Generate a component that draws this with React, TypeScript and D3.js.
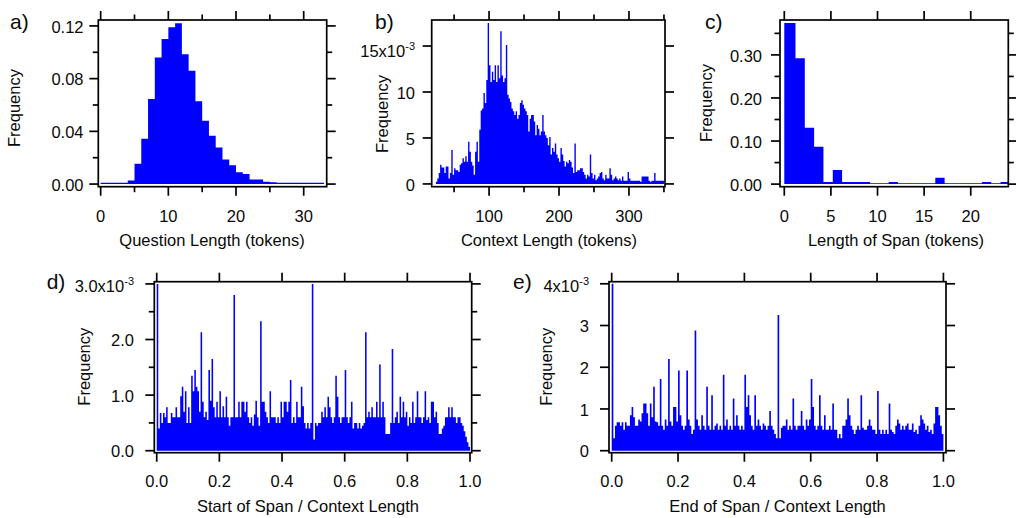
import React from "react";
import * as d3 from "d3";

// a) question length, 1-token bins starting at 0
const questionBinStart = 0;
const questionBinWidth = 1;
const questionFreq = [
  0.001, 0.001, 0.001, 0.001, 0.0028, 0.0154, 0.0344, 0.0646, 0.096, 0.11,
  0.119, 0.122, 0.0985, 0.086, 0.0628, 0.048, 0.0367, 0.0278, 0.0187, 0.0142,
  0.0089, 0.0076, 0.0035, 0.0035, 0.0018, 0.0013, 0.001, 0.001, 0.001, 0.001,
  0.001, 0.001, 0.001,
];

// b) context length, 2-token bins starting at 24 (values x1e-3)
const contextBinStart = 24;
const contextBinWidth = 2;
const contextFreq = [
  0.25, 0.6, 1.2, 2.1, 1.8, 1.8, 1.2, 1.9, 1.9, 0.6,
  1.2, 3.7, 1.0, 1.7, 1.5, 1.5, 1.3, 2.1, 2.25, 2.8,
  2.4, 3.0, 2.4, 4.6, 3.5, 2.4, 2.0, 1.0, 3.5, 4.6,
  2.4, 5.9, 8.0, 8.2, 9.9, 8.8, 11.3, 17.5, 12.9, 11.1,
  12.2, 11.3, 12.9, 11.1, 12.9, 11.5, 16.6, 11.8, 11.1, 11.5,
  15.1, 9.7, 9.3, 8.9, 8.2, 7.9, 7.5, 7.9, 7.1, 7.5,
  8.8, 9.1, 8.6, 8.2, 7.9, 7.5, 5.7, 7.1, 7.5, 7.5,
  6.8, 5.3, 6.4, 6.0, 5.3, 5.7, 7.5, 5.7, 5.3, 5.0,
  4.2, 5.1, 3.2, 3.9, 3.5, 4.4, 3.2, 2.8, 2.4, 3.9,
  3.2, 2.5, 1.9, 2.4, 2.25, 2.6, 2.4, 1.8, 1.2, 4.4,
  1.3, 1.5, 1.5, 1.7, 1.7, 1.3, 1.0, 0.6, 1.0, 0.8,
  3.2, 1.2, 0.6, 1.0, 0.4, 0.6, 0.8, 1.2, 1.3, 0.6,
  0.4, 1.0, 0.6, 0.6, 1.7, 1.0, 0.4, 0.6, 0.8, 0.6,
  0.4, 0.6, 0.35, 0.8, 0.35, 0.35, 0.35, 1.3, 0.6, 0.35,
  0.35, 0.35, 0.35, 0.35, 0.35, 0.35, 0.25, 0.8, 0.8, 0.8,
  0.8, 0.8, 0.35, 0.25, 0.35, 0.35, 1.2, 0.35, 0.35, 0.35,
  0.35, 0.35, 0.35,
];

// c) span length, uneven first bin
const spanBinEdges = [
  0, 1.2, 2.2, 3.2, 4.2, 5.2, 6.2, 7.2, 8.2, 9.2, 10.2, 11.2, 12.2, 13.2,
  14.2, 15.2, 16.2, 17.2, 18.2, 19.2, 20.2, 21.2, 22.2, 23.2, 24.2,
];
const spanFreq = [
  0.374, 0.292, 0.131, 0.087, 0.005, 0.033, 0.005, 0.005, 0.005, 0.002,
  0.002, 0.005, 0.002, 0.002, 0.002, 0.002, 0.015, 0.002, 0.002, 0.002,
  0.002, 0.005, 0.002, 0.005,
];

// d) start of span / context length, bins of 0.005 (values x1e-3)
const fracBinStart = 0;
const fracBinWidth = 0.005;
const startFreq = [
  3.0, 0.4, 0.68, 0.5, 0.68, 0.6, 0.78, 0.5, 0.5, 0.68, 0.6, 0.6, 0.78, 0.6, 0.6, 0.98, 1.15, 0.7, 1.07, 0.5,
  0.78, 0.5, 1.35, 1.07, 1.45, 1.15, 1.07, 0.7, 2.13, 0.88, 0.6, 0.7, 0.55, 1.45, 0.9, 1.65, 0.78, 0.6, 0.88, 0.6,
  1.07, 0.6, 0.8, 0.6, 0.97, 0.6, 0.45, 0.6, 0.6, 2.8, 0.6, 0.6, 0.88, 0.6, 0.88, 0.88, 0.7, 0.88, 0.6, 0.5,
  0.6, 0.45, 0.65, 0.9, 0.6, 0.45, 2.33, 0.88, 0.88, 0.7, 0.6, 0.5, 1.07, 0.6, 0.6, 0.6, 0.5, 0.6, 0.5, 0.88,
  0.6, 0.88, 0.88, 0.7, 0.88, 1.27, 0.5, 0.6, 0.5, 0.88, 0.6, 0.6, 1.15, 0.8, 0.5, 0.4, 0.5, 0.4, 0.5, 3.0,
  0.2, 0.5, 0.45, 0.5, 0.5, 0.7, 0.6, 0.78, 0.6, 0.97, 0.78, 0.6, 0.5, 0.6, 1.35, 0.97, 0.6, 0.5, 0.6, 0.6,
  1.45, 0.6, 0.5, 0.6, 0.88, 0.4, 0.5, 0.5, 0.4, 0.5, 0.4, 0.45, 0.5, 2.13, 0.6, 0.7, 0.6, 0.78, 0.6, 0.6,
  0.88, 0.6, 1.55, 0.6, 0.88, 0.6, 0.3, 0.3, 0.3, 0.5, 1.83, 0.5, 0.6, 0.7, 0.5, 0.97, 0.6, 0.88, 0.6, 0.7,
  0.45, 0.6, 0.5, 0.88, 0.5, 0.6, 1.07, 0.6, 0.6, 0.5, 0.6, 1.07, 0.55, 0.6, 0.5, 0.88, 0.88, 0.6, 0.7, 0.5,
  0.3, 0.3, 0.4, 0.45, 0.6, 0.6, 0.78, 0.6, 0.78, 0.6, 0.6, 0.5, 0.6, 0.6, 0.5, 0.45, 0.35, 0.25, 0.15, 0.07,
];

// e) end of span / context length, bins of 0.005 (values x1e-3)
const endFreq = [
  4.0, 0.3, 0.6, 0.68, 0.68, 0.6, 0.68, 0.5, 0.68, 0.6, 0.6, 0.85, 1.05, 0.8, 0.6, 0.6, 0.75, 0.7, 0.9, 1.13,
  1.13, 0.9, 0.6, 1.13, 0.8, 1.53, 0.7, 0.68, 0.6, 1.72, 0.6, 0.5, 0.75, 0.6, 2.2, 0.7, 0.6, 1.05, 1.05, 0.7,
  1.92, 0.85, 0.6, 0.5, 0.6, 1.92, 0.75, 0.6, 0.4, 0.5, 2.88, 0.75, 0.6, 0.5, 0.85, 0.6, 0.5, 1.53, 0.6, 0.5,
  1.33, 0.5, 0.6, 0.65, 0.5, 0.6, 0.5, 1.82, 0.6, 0.75, 0.5, 0.6, 0.5, 1.25, 0.6, 0.85, 0.6, 0.5, 0.6, 0.5,
  1.82, 1.05, 1.33, 0.85, 0.6, 0.5, 1.33, 0.6, 0.75, 0.6, 0.5, 0.65, 0.6, 0.5, 0.6, 0.95, 0.6, 0.5, 0.4, 0.3,
  3.25, 0.3, 0.55, 0.6, 0.6, 0.75, 0.5, 0.6, 0.5, 1.25, 0.6, 0.5, 0.6, 0.6, 0.95, 0.6, 0.5, 0.75, 0.6, 0.75,
  1.72, 1.05, 0.6, 0.5, 0.6, 1.33, 0.6, 0.5, 0.85, 0.5, 0.5, 0.6, 0.5, 1.13, 0.5, 0.5, 0.3, 0.4, 0.3, 0.6,
  0.6, 0.75, 1.25, 0.85, 0.6, 0.5, 0.4, 0.5, 0.6, 0.5, 1.33, 0.55, 0.5, 0.5, 0.6, 0.75, 0.6, 0.5, 0.5, 0.4,
  1.43, 0.5, 0.4, 0.5, 0.4, 0.5, 0.4, 1.13, 0.5, 0.45, 0.4, 0.6, 0.75, 0.65, 0.5, 0.6, 0.5, 0.6, 0.65, 0.5,
  0.5, 0.65, 0.45, 0.5, 0.4, 0.6, 0.85, 0.75, 0.65, 0.5, 0.6, 0.45, 0.5, 0.4, 0.65, 1.05, 1.05, 0.85, 0.6, 0.4,
];

const fracTicks = [0, 0.2, 0.4, 0.6, 0.8, 1.0];

const BLUE = "#0000ff";
const INK = "#0a0a0a";
const FONT = "'Liberation Sans', Arial, sans-serif";

const evenEdges = (start: number, width: number, n: number) =>
  d3.range(n + 1).map((i) => start + i * width);

type Box = { left: number; top: number; right: number; bottom: number };

type PanelSpec = {
  id: string;
  label: string;
  labelPos: [number, number];
  box: Box;
  xDomain: [number, number];
  yDomain: [number, number];
  edges: number[];
  values: number[];
  xMajor: number[];
  xMinor: number[];
  yMajor: number[];
  yMinor: number[];
  xFormat: (v: number) => string;
  yFormat: (v: number) => string;
  yExp?: string;
  yExpDy?: number;
  yLabelRight: number;
  yTitlePos: [number, number];
  xTickY: number;
  xTitle: string;
  xTitlePos: [number, number];
};

const MAJOR = 9;
const MINOR = 5.5;

const Panel = ({ spec }: { spec: PanelSpec }) => {
  const { box } = spec;
  const x = d3.scaleLinear().domain(spec.xDomain).range([box.left, box.right]);
  const y = d3.scaleLinear().domain(spec.yDomain).range([box.bottom, box.top]);

  const pts: [number, number][] = spec.values.map((v, i) => [spec.edges[i], v]);
  pts.push([spec.edges[spec.values.length], spec.values[spec.values.length - 1]]);
  const area = d3
    .area<[number, number]>()
    .x((d) => x(d[0]))
    .y0(y(0))
    .y1((d) => y(d[1]))
    .curve(d3.curveStepAfter);

  const xt = [
    ...spec.xMajor.map((v) => ({ v, len: MAJOR })),
    ...spec.xMinor.map((v) => ({ v, len: MINOR })),
  ];
  const yt = [
    ...spec.yMajor.map((v) => ({ v, len: MAJOR })),
    ...spec.yMinor.map((v) => ({ v, len: MINOR })),
  ];
  const clipId = `clip-${spec.id}`;
  const topY = spec.yMajor[spec.yMajor.length - 1];

  return (
    <g>
      <clipPath id={clipId}>
        <rect x={box.left} y={box.top} width={box.right - box.left} height={box.bottom - box.top} />
      </clipPath>
      <path d={area(pts) || ""} fill={BLUE} clipPath={`url(#${clipId})`} />

      <g stroke="#000" strokeWidth={1.7}>
        {xt.map((t) => (
          <g key={`x${t.v}`}>
            <line x1={x(t.v)} x2={x(t.v)} y1={box.bottom} y2={box.bottom + t.len} />
            <line x1={x(t.v)} x2={x(t.v)} y1={box.top} y2={box.top - t.len} />
          </g>
        ))}
        {yt.map((t) => (
          <g key={`y${t.v}`}>
            <line x1={box.left} x2={box.left - t.len} y1={y(t.v)} y2={y(t.v)} />
            <line x1={box.right} x2={box.right + t.len} y1={y(t.v)} y2={y(t.v)} />
          </g>
        ))}
        <rect
          x={box.left}
          y={box.top}
          width={box.right - box.left}
          height={box.bottom - box.top}
          fill="none"
        />
      </g>

      <g fontFamily={FONT} fontSize={16.5} fill={INK}>
        {spec.xMajor.map((v) => (
          <text key={v} x={x(v)} y={spec.xTickY} dy="0.35em" textAnchor="middle">
            {spec.xFormat(v)}
          </text>
        ))}
        {spec.yMajor.map((v) => {
          const exp = spec.yExp && v === topY;
          return (
            <text
              key={v}
              x={spec.yLabelRight}
              y={y(v) + 1 + (exp ? spec.yExpDy || 0 : 0)}
              dy="0.35em"
              textAnchor="end"
            >
              {spec.yFormat(v)}
              {exp && (
                <>
                  x10
                  <tspan dy={-7} fontSize={11}>
                    {spec.yExp}
                  </tspan>
                </>
              )}
            </text>
          );
        })}
        <text
          x={spec.yTitlePos[0]}
          y={spec.yTitlePos[1]}
          textAnchor="middle"
          transform={`rotate(-90, ${spec.yTitlePos[0]}, ${spec.yTitlePos[1]})`}
        >
          Frequency
        </text>
        <text x={spec.xTitlePos[0]} y={spec.xTitlePos[1]} textAnchor="middle">
          {spec.xTitle}
        </text>
        <text x={spec.labelPos[0]} y={spec.labelPos[1]} fontSize={21}>
          {spec.label}
        </text>
      </g>
    </g>
  );
};

const fmt2 = d3.format(".2f");
const fmt1 = d3.format(".1f");
const fmtInt = d3.format("d");

const panels: PanelSpec[] = [
  {
    id: "a",
    label: "a)",
    labelPos: [10, 29],
    box: { left: 98.3, top: 20, right: 326.7, bottom: 186.7 },
    xDomain: [-0.35, 33.4],
    yDomain: [-0.002, 0.1245],
    edges: evenEdges(questionBinStart, questionBinWidth, questionFreq.length),
    values: questionFreq,
    xMajor: [0, 10, 20, 30],
    xMinor: [5, 15, 25],
    yMajor: [0, 0.04, 0.08, 0.12],
    yMinor: [0.02, 0.06, 0.1],
    xFormat: fmtInt,
    yFormat: fmt2,
    yLabelRight: 83.5,
    yTitlePos: [19.5, 108],
    xTickY: 216.5,
    xTitle: "Question Length (tokens)",
    xTitlePos: [212, 245.5],
  },
  {
    id: "b",
    label: "b)",
    labelPos: [375, 29],
    box: { left: 431.7, top: 20, right: 665, bottom: 186.7 },
    xDomain: [18, 351.5],
    yDomain: [-0.3, 17.83],
    edges: evenEdges(contextBinStart, contextBinWidth, contextFreq.length),
    values: contextFreq,
    xMajor: [100, 200, 300],
    xMinor: [50, 150, 250, 350],
    yMajor: [0, 5, 10, 15],
    yMinor: [],
    xFormat: fmtInt,
    yFormat: fmtInt,
    yExp: "-3",
    yExpDy: 4,
    yLabelRight: 415,
    yTitlePos: [388, 114],
    xTickY: 216.5,
    xTitle: "Context Length (tokens)",
    xTitlePos: [549, 245.5],
  },
  {
    id: "c",
    label: "c)",
    labelPos: [705, 29],
    box: { left: 780, top: 20, right: 1008.3, bottom: 186.7 },
    xDomain: [-0.46, 24.03],
    yDomain: [-0.006, 0.381],
    edges: spanBinEdges,
    values: spanFreq,
    xMajor: [0, 5, 10, 15, 20],
    xMinor: [],
    yMajor: [0, 0.1, 0.2, 0.3],
    yMinor: [0.05, 0.15, 0.25, 0.35],
    xFormat: fmtInt,
    yFormat: fmt2,
    yLabelRight: 762,
    yTitlePos: [712, 103],
    xTickY: 216.5,
    xTitle: "Length of Span (tokens)",
    xTitlePos: [896, 245.5],
  },
  {
    id: "d",
    label: "d)",
    labelPos: [46.7, 289],
    box: { left: 154.3, top: 281.7, right: 471.7, bottom: 452.7 },
    xDomain: [-0.0077, 1.0054],
    yDomain: [-0.036, 3.04],
    edges: evenEdges(fracBinStart, fracBinWidth, startFreq.length),
    values: startFreq,
    xMajor: fracTicks,
    xMinor: [],
    yMajor: [0, 1, 2, 3],
    yMinor: [0.5, 1.5, 2.5],
    xFormat: fmt1,
    yFormat: fmt1,
    yExp: "-3",
    yExpDy: 1,
    yLabelRight: 134,
    yTitlePos: [90, 366.7],
    xTickY: 481,
    xTitle: "Start of Span / Context Length",
    xTitlePos: [308, 512],
  },
  {
    id: "e",
    label: "e)",
    labelPos: [513, 289],
    box: { left: 609, top: 281.7, right: 946, bottom: 452.7 },
    xDomain: [-0.0081, 1.0078],
    yDomain: [-0.048, 4.05],
    edges: evenEdges(fracBinStart, fracBinWidth, endFreq.length),
    values: endFreq,
    xMajor: fracTicks,
    xMinor: [],
    yMajor: [0, 1, 2, 3, 4],
    yMinor: [],
    xFormat: fmt1,
    yFormat: fmtInt,
    yExp: "-3",
    yExpDy: 1,
    yLabelRight: 589,
    yTitlePos: [552, 366.7],
    xTickY: 481,
    xTitle: "End of Span / Context Length",
    xTitlePos: [777.5, 512],
  },
];

export default function App() {
  return (
    <svg
      width={1016}
      height={518}
      style={{ position: "absolute", left: 0, top: 0, background: "#fff" }}
    >
      {panels.map((p) => (
        <Panel key={p.id} spec={p} />
      ))}
    </svg>
  );
}
